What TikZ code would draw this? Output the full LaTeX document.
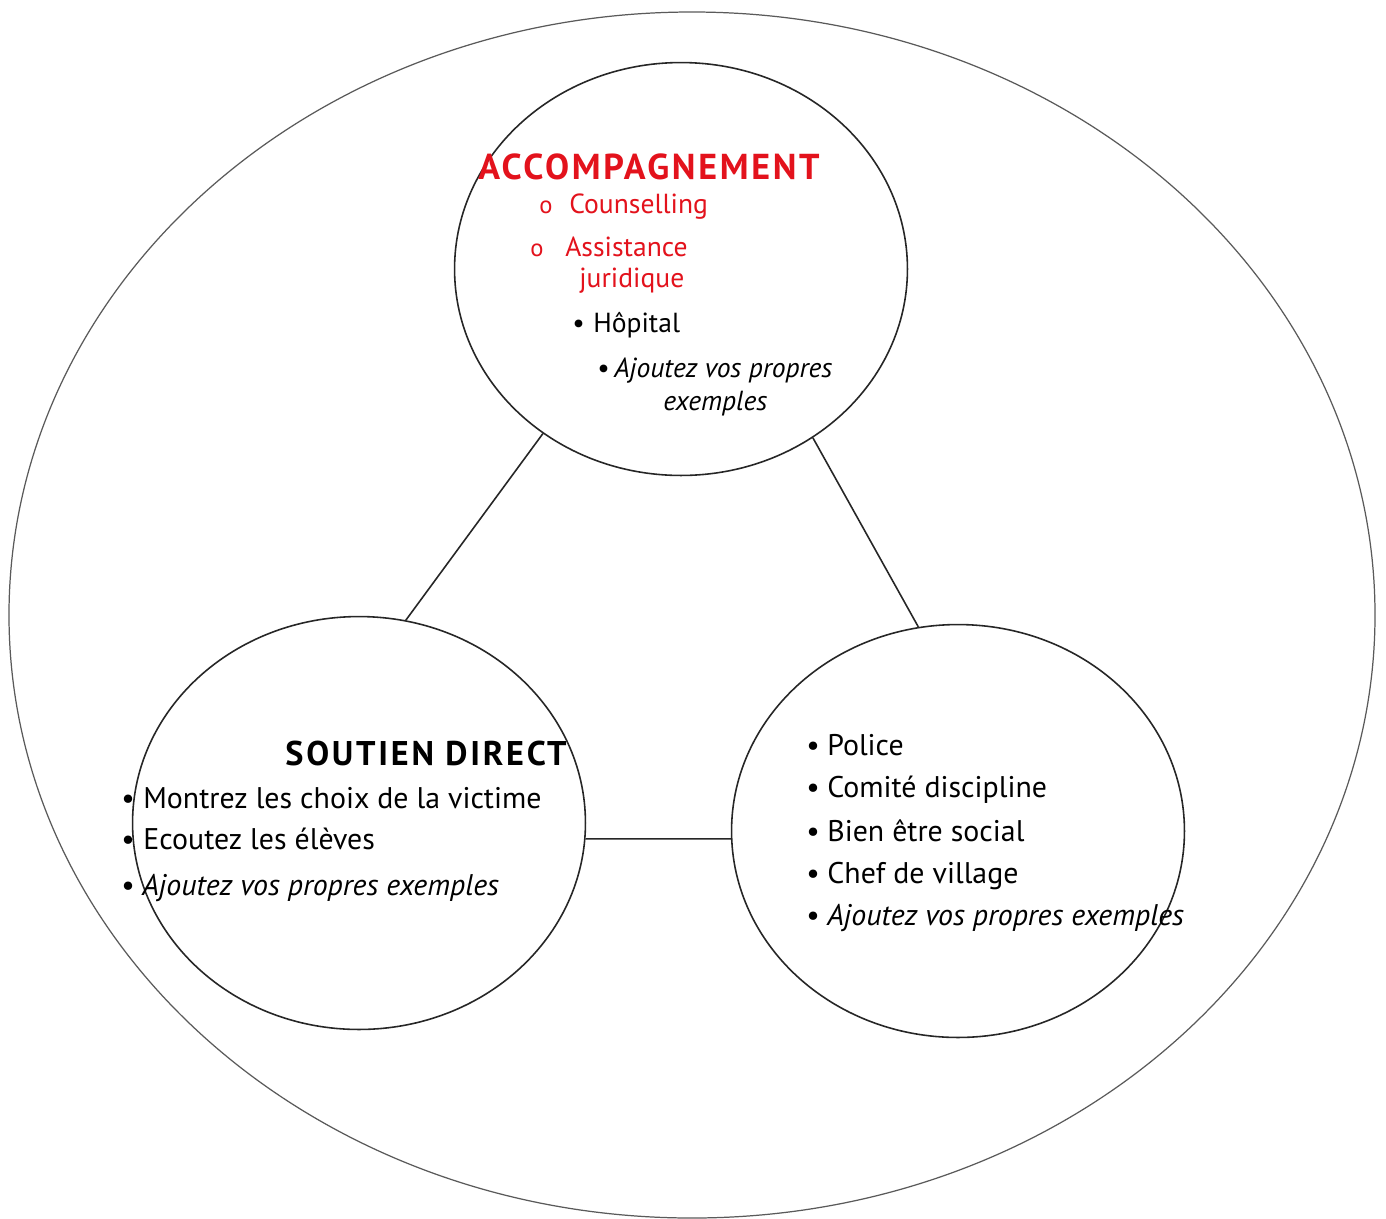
\documentclass[tikz,border=0pt]{standalone}
\usepackage{fontspec}
\setmainfont{PT Sans}
\usepackage{xcolor}
\usetikzlibrary{shapes.geometric}
\definecolor{redc}{HTML}{E3121C}
\definecolor{linec}{HTML}{262626}
\definecolor{outc}{HTML}{5A5A5A}
\tikzset{
  bub/.style={ellipse,draw=linec,line width=0.9pt,minimum width=9.06cm,minimum height=8.26cm,inner sep=0pt},
  lnk/.style={draw=linec,line width=0.9pt},
  hd/.style={anchor=base west,inner sep=0pt,font=\fontsize{19.5}{23}\selectfont\bfseries\addfontfeatures{LetterSpace=8}},
  tx/.style={anchor=base west,inner sep=0pt,font=\fontsize{17}{20}\selectfont},
  sm/.style={anchor=base west,inner sep=0pt,font=\fontsize{15.7}{18}\selectfont}
}
% bullet + text: name, x bullet, x text, y baseline, style, bullet, text
\newcommand{\itm}[7]{%
  \node[#5] (#1b) at (#2,#4) {#6};
  \node[#5] (#1) at (#3,#4) {#7};}
\newcommand{\hol}{{\fontsize{14}{14}\selectfont o}}
\begin{document}
\begin{tikzpicture}[x=0.02cm,y=-0.02cm]
\useasboundingbox (0,0) rectangle (1386,1218);
\fill[white] (0,0) rectangle (1386,1218);
\draw[outc,line width=0.7pt] (692,615) ellipse [x radius=683,y radius=603];
% three circles
\node[bub] (acc) at (681,269) {};
\node[bub] (sout) at (359,823) {};
\node[bub] (rel) at (958,831) {};
\draw[lnk] (acc.230) -- (sout.77);
\draw[lnk] (acc.308) -- (rel.101);
\draw[lnk] (sout.-4) -- (rel.182);
% top
\node[hd,redc,font=\fontsize{20.5}{24}\selectfont\bfseries\addfontfeatures{LetterSpace=7.5}] (acct) at (478,179) {ACCOMPAGNEMENT};
\itm{c1}{539}{569}{213}{sm,redc}{\hol}{Counselling}
\itm{c2}{530}{565}{256}{sm,redc}{\hol}{Assistance}
\node[sm,redc] (c2x) at (579,287) {juridique};
\itm{c3}{572}{593}{332}{sm}{\textbullet}{Hôpital}
\itm{c4}{597}{614}{377}{sm}{\textbullet}{\itshape Ajoutez vos propres}
\node[sm] (c4x) at (663,410) {\itshape exemples};
% left
\node[hd] (sdt) at (285,765) {SOUTIEN DIRECT};
\itm{s1}{121}{143}{808}{tx}{\textbullet}{Montrez les choix de la victime}
\itm{s2}{121}{143}{849}{tx}{\textbullet}{Ecoutez les élèves}
\itm{s3}{121}{142}{895}{tx}{\textbullet}{\itshape Ajoutez vos propres exemples}
% right
\itm{r1}{806}{827}{755}{tx}{\textbullet}{Police}
\itm{r2}{806}{827}{797}{tx}{\textbullet}{Comité discipline}
\itm{r3}{806}{827}{841}{tx}{\textbullet}{Bien être social}
\itm{r4}{806}{827}{883}{tx}{\textbullet}{Chef de village}
\itm{r5}{806}{827}{925}{tx}{\textbullet}{\itshape Ajoutez vos propres exemples}
\end{tikzpicture}
\end{document}
